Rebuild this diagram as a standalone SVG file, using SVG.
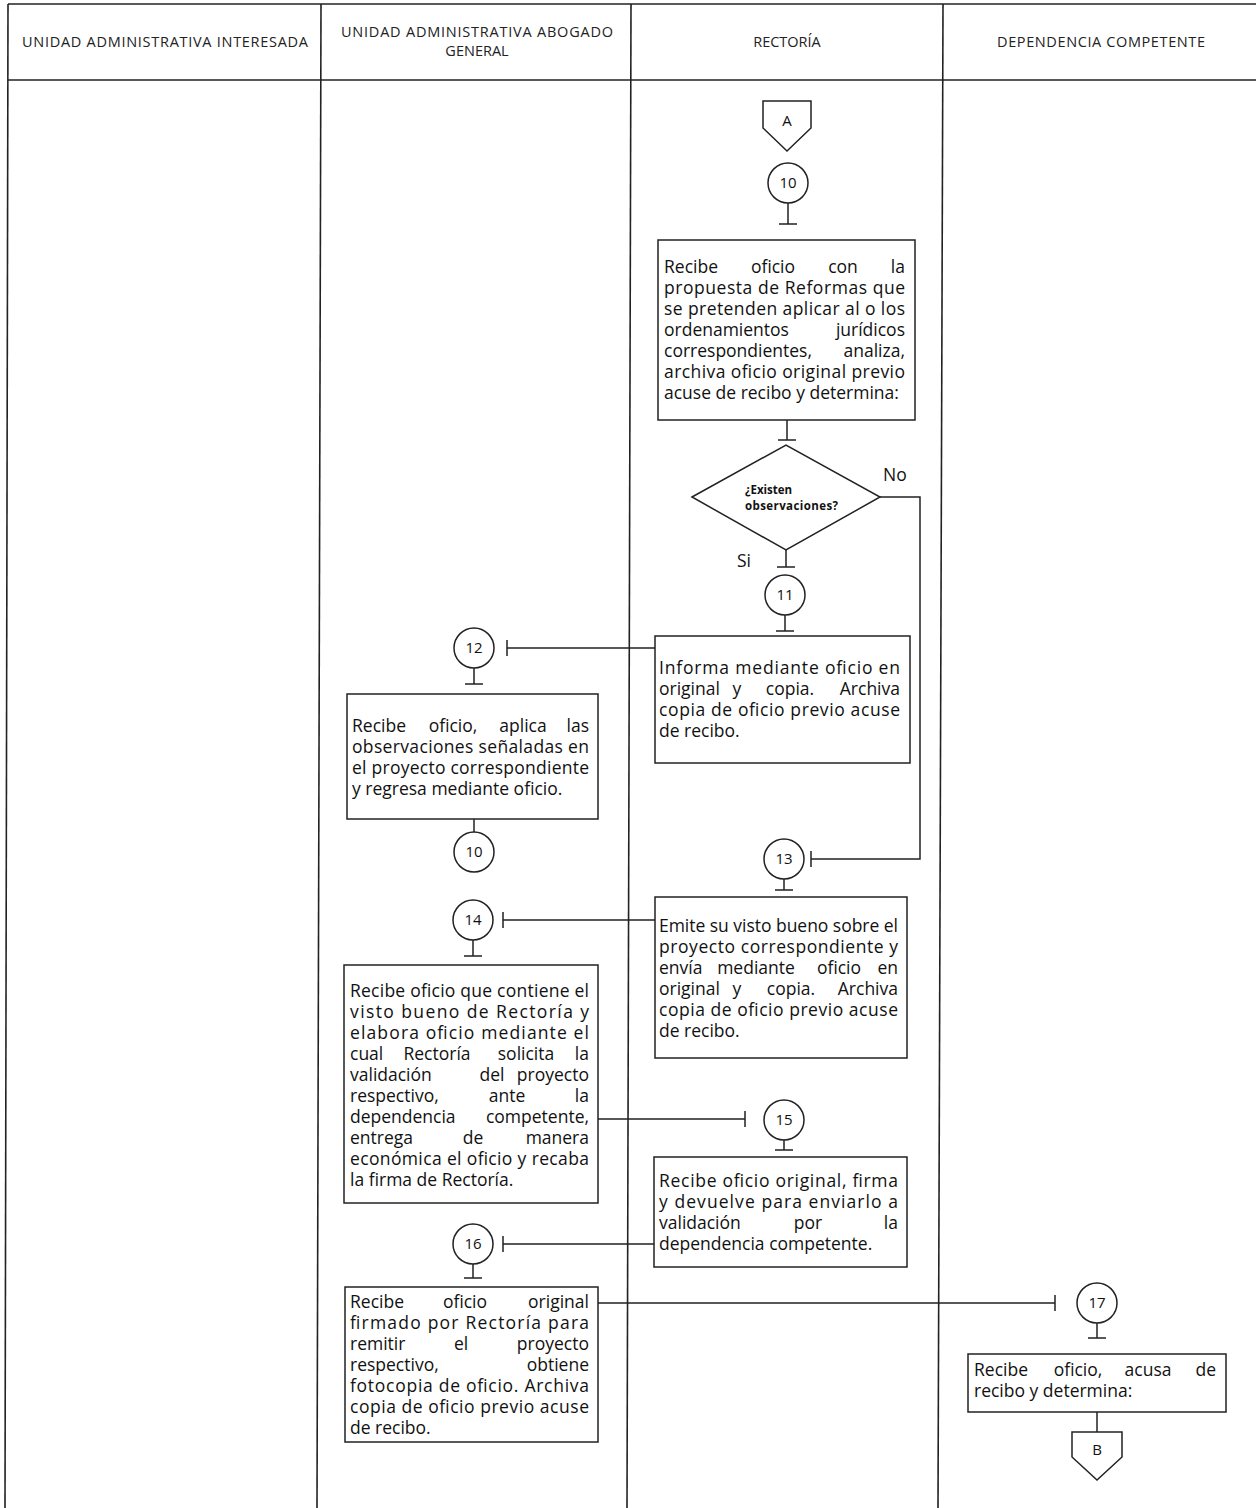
<svg xmlns="http://www.w3.org/2000/svg" width="1256" height="1508" viewBox="0 0 1256 1508">
<style>
.frame{stroke:#222;stroke-width:1.6;fill:none}
.box{stroke:#222;stroke-width:1.5;fill:#fff}
.ln{stroke:#222;stroke-width:1.5;fill:none}
.h{font-family:"Open Sans","Liberation Sans",sans-serif;font-size:14.5px;fill:#222;text-anchor:middle}
.t{font-family:"Open Sans","Liberation Sans",sans-serif;font-size:17.5px;fill:#111}
.e{text-anchor:end}
.m{text-anchor:middle}
.n{font-family:"Open Sans","Liberation Sans",sans-serif;font-size:15px;fill:#111;text-anchor:middle}
.d{font-family:"Open Sans","Liberation Sans",sans-serif;font-size:11.5px;font-weight:bold;fill:#111}
</style>
<rect width="1256" height="1508" fill="#fff"/>
<g id="lanes">
<line class="frame" x1="8" y1="4" x2="1256" y2="4"/>
<line class="frame" x1="8" y1="80" x2="1256" y2="80"/>
<line class="frame" x1="8" y1="4" x2="5" y2="1508"/>
<line class="frame" x1="321" y1="4" x2="317" y2="1508"/>
<line class="frame" x1="631" y1="4" x2="627" y2="1508"/>
<line class="frame" x1="943" y1="4" x2="938" y2="1508"/>
<text class="h" x="165" y="47" textLength="286" lengthAdjust="spacing">UNIDAD ADMINISTRATIVA INTERESADA</text>
<text class="h" x="477" y="37" textLength="272" lengthAdjust="spacing">UNIDAD ADMINISTRATIVA ABOGADO</text>
<text class="h" x="477" y="56">GENERAL</text>
<text class="h" x="787" y="47">RECTORÍA</text>
<text class="h" x="1101" y="47" textLength="208" lengthAdjust="spacing">DEPENDENCIA COMPETENTE</text>
</g>
<g id="connectors">
<path class="ln" d="M788 203V224M779 224H797"/>
<path class="ln" d="M787 420V440M778 440H796"/>
<path class="ln" d="M786 550V567M777 567H795"/>
<path class="ln" d="M785 615V631M776 631H794"/>
<path class="ln" d="M880 497H920V859H811M811 851V867"/>
<path class="ln" d="M655 648H507M507 640V656"/>
<path class="ln" d="M474 668V684M465 684H483"/>
<path class="ln" d="M474 819V832"/>
<path class="ln" d="M784 879V890M775 890H793"/>
<path class="ln" d="M655 920H503M503 912V928"/>
<path class="ln" d="M473 940V956M464 956H482"/>
<path class="ln" d="M598 1119H745M745 1111V1127"/>
<path class="ln" d="M784 1140V1150M775 1150H793"/>
<path class="ln" d="M654 1244H503M503 1236V1252"/>
<path class="ln" d="M473 1264V1278M464 1278H482"/>
<path class="ln" d="M598 1303H1055M1055 1295V1311"/>
<path class="ln" d="M1097 1323V1338M1088 1338H1106"/>
<path class="ln" d="M1097 1412V1432"/>
<text class="t" x="883" y="481">No</text>
<text class="t" x="737" y="567">Si</text>
</g>
<g id="offpageA">
<path class="box" d="M763 101H811V128L787 151L763 128Z"/>
<text class="n" x="787" y="126">A</text>
</g>
<g id="c10"><circle class="box" cx="788" cy="183" r="20"/><text class="n" x="788" y="188">10</text></g>
<g id="box1">
<rect class="box" x="658" y="240" width="257" height="180"/>
<text class="t" x="664" y="273">Recibe</text>
<text class="t m" x="773" y="273">oficio</text>
<text class="t m" x="843" y="273">con</text>
<text class="t e" x="905" y="273">la</text>
<text class="t" x="664" y="294" textLength="241" lengthAdjust="spacing">propuesta de Reformas que</text>
<text class="t" x="664" y="315" textLength="241" lengthAdjust="spacing">se pretenden aplicar al o los</text>
<text class="t" x="664" y="336">ordenamientos</text>
<text class="t e" x="905" y="336">jurídicos</text>
<text class="t" x="664" y="357">correspondientes,</text>
<text class="t e" x="905" y="357">analiza,</text>
<text class="t" x="664" y="378" textLength="241" lengthAdjust="spacing">archiva oficio original previo</text>
<text class="t" x="664" y="399">acuse de recibo y determina:</text>
</g>
<g id="decision">
<path class="box" d="M692 497L786 445L880 497L786 550Z"/>
<text class="d" x="745" y="494">¿Existen</text>
<text class="d" x="745" y="510" textLength="93" lengthAdjust="spacing">observaciones?</text>
</g>
<g id="c11"><circle class="box" cx="785" cy="595" r="20"/><text class="n" x="785" y="600">11</text></g>
<g id="box2">
<rect class="box" x="655" y="636" width="255" height="127"/>
<text class="t" x="659" y="674" textLength="241" lengthAdjust="spacing">Informa mediante oficio en</text>
<text class="t" x="659" y="695">original</text>
<text class="t m" x="737" y="695">y</text>
<text class="t m" x="790" y="695">copia.</text>
<text class="t e" x="900" y="695">Archiva</text>
<text class="t" x="659" y="716" textLength="241" lengthAdjust="spacing">copia de oficio previo acuse</text>
<text class="t" x="659" y="737">de recibo.</text>
</g>
<g id="c12"><circle class="box" cx="474" cy="648" r="20"/><text class="n" x="474" y="653">12</text></g>
<g id="box3">
<rect class="box" x="347" y="694" width="251" height="125"/>
<text class="t" x="352" y="732">Recibe</text>
<text class="t m" x="453" y="732">oficio,</text>
<text class="t m" x="523" y="732">aplica</text>
<text class="t e" x="589" y="732">las</text>
<text class="t" x="352" y="753" textLength="237" lengthAdjust="spacing">observaciones señaladas en</text>
<text class="t" x="352" y="774" textLength="237" lengthAdjust="spacing">el proyecto correspondiente</text>
<text class="t" x="352" y="795">y regresa mediante oficio.</text>
</g>
<g id="c10b"><circle class="box" cx="474" cy="852" r="20"/><text class="n" x="474" y="857">10</text></g>
<g id="c13"><circle class="box" cx="784" cy="859" r="20"/><text class="n" x="784" y="864">13</text></g>
<g id="box4">
<rect class="box" x="655" y="897" width="252" height="161"/>
<text class="t" x="659" y="932" textLength="239" lengthAdjust="spacing">Emite su visto bueno sobre el</text>
<text class="t" x="659" y="953" textLength="239" lengthAdjust="spacing">proyecto correspondiente y</text>
<text class="t" x="659" y="974">envía</text>
<text class="t m" x="756" y="974">mediante</text>
<text class="t m" x="839" y="974">oficio</text>
<text class="t e" x="898" y="974">en</text>
<text class="t" x="659" y="995">original</text>
<text class="t m" x="737" y="995">y</text>
<text class="t m" x="791" y="995">copia.</text>
<text class="t e" x="898" y="995">Archiva</text>
<text class="t" x="659" y="1016" textLength="239" lengthAdjust="spacing">copia de oficio previo acuse</text>
<text class="t" x="659" y="1037">de recibo.</text>
</g>
<g id="c14"><circle class="box" cx="473" cy="920" r="20"/><text class="n" x="473" y="925">14</text></g>
<g id="box5">
<rect class="box" x="344" y="965" width="254" height="238"/>
<text class="t" x="350" y="997" textLength="239" lengthAdjust="spacing">Recibe oficio que contiene el</text>
<text class="t" x="350" y="1018" textLength="239" lengthAdjust="spacing">visto bueno de Rectoría y</text>
<text class="t" x="350" y="1039" textLength="239" lengthAdjust="spacing">elabora oficio mediante el</text>
<text class="t" x="350" y="1060">cual</text>
<text class="t m" x="437" y="1060">Rectoría</text>
<text class="t m" x="526" y="1060">solicita</text>
<text class="t e" x="589" y="1060">la</text>
<text class="t" x="350" y="1081">validación</text>
<text class="t m" x="492" y="1081">del</text>
<text class="t e" x="589" y="1081">proyecto</text>
<text class="t" x="350" y="1102">respectivo,</text>
<text class="t m" x="507" y="1102">ante</text>
<text class="t e" x="589" y="1102">la</text>
<text class="t" x="350" y="1123">dependencia</text>
<text class="t e" x="589" y="1123">competente,</text>
<text class="t" x="350" y="1144">entrega</text>
<text class="t m" x="473" y="1144">de</text>
<text class="t e" x="589" y="1144">manera</text>
<text class="t" x="350" y="1165" textLength="239" lengthAdjust="spacing">económica el oficio y recaba</text>
<text class="t" x="350" y="1186">la firma de Rectoría.</text>
</g>
<g id="c15"><circle class="box" cx="784" cy="1120" r="20"/><text class="n" x="784" y="1125">15</text></g>
<g id="box6">
<rect class="box" x="654" y="1157" width="253" height="110"/>
<text class="t" x="659" y="1187" textLength="239" lengthAdjust="spacing">Recibe oficio original, firma</text>
<text class="t" x="659" y="1208" textLength="239" lengthAdjust="spacing">y devuelve para enviarlo a</text>
<text class="t" x="659" y="1229">validación</text>
<text class="t m" x="808" y="1229">por</text>
<text class="t e" x="898" y="1229">la</text>
<text class="t" x="659" y="1250">dependencia competente.</text>
</g>
<g id="c16"><circle class="box" cx="473" cy="1244" r="20"/><text class="n" x="473" y="1249">16</text></g>
<g id="box7">
<rect class="box" x="345" y="1287" width="253" height="155"/>
<text class="t" x="350" y="1308">Recibe</text>
<text class="t m" x="465" y="1308">oficio</text>
<text class="t e" x="589" y="1308">original</text>
<text class="t" x="350" y="1329" textLength="239" lengthAdjust="spacing">firmado por Rectoría para</text>
<text class="t" x="350" y="1350">remitir</text>
<text class="t m" x="461" y="1350">el</text>
<text class="t e" x="589" y="1350">proyecto</text>
<text class="t" x="350" y="1371">respectivo,</text>
<text class="t e" x="589" y="1371">obtiene</text>
<text class="t" x="350" y="1392" textLength="239" lengthAdjust="spacing">fotocopia de oficio. Archiva</text>
<text class="t" x="350" y="1413" textLength="239" lengthAdjust="spacing">copia de oficio previo acuse</text>
<text class="t" x="350" y="1434">de recibo.</text>
</g>
<g id="c17"><circle class="box" cx="1097" cy="1303" r="20"/><text class="n" x="1097" y="1308">17</text></g>
<g id="box8">
<rect class="box" x="968" y="1354" width="258" height="58"/>
<text class="t" x="974" y="1376">Recibe</text>
<text class="t m" x="1078" y="1376">oficio,</text>
<text class="t m" x="1148" y="1376">acusa</text>
<text class="t e" x="1216" y="1376">de</text>
<text class="t" x="974" y="1397">recibo y determina:</text>
</g>
<g id="offpageB">
<path class="box" d="M1072 1432H1122V1457L1097 1480L1072 1457Z"/>
<text class="n" x="1097" y="1455">B</text>
</g>
</svg>
